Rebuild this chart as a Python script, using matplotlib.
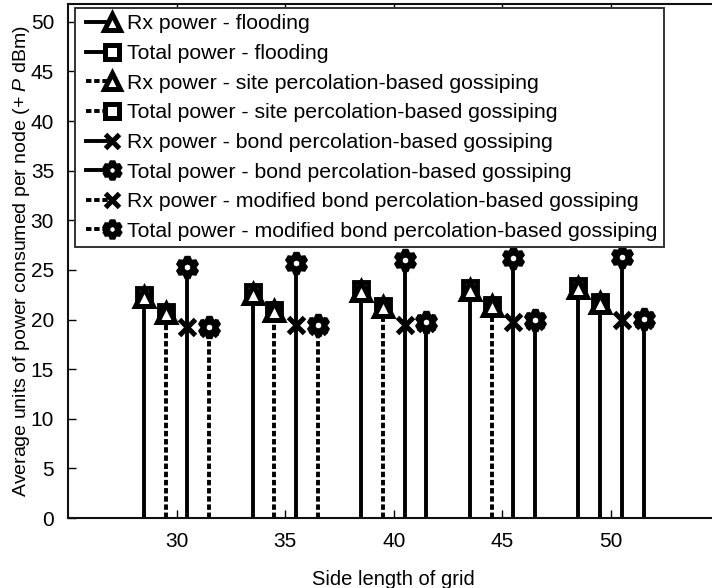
import numpy as np
import matplotlib.pyplot as plt
from matplotlib.lines import Line2D
from matplotlib.legend_handler import HandlerBase

plt.rcParams['font.family'] = ['Liberation Sans', 'DejaVu Sans']
plt.rcParams['mathtext.fontset'] = 'custom'
plt.rcParams['mathtext.it'] = 'Liberation Sans:italic'
plt.rcParams['mathtext.rm'] = 'Liberation Sans'

# side length of the grid
grid = [30, 35, 40, 45, 50]

# power per node for each scheme
rx_flood = [22.3, 22.6, 22.9, 23.0, 23.2]
tot_flood = [22.5, 22.8, 23.1, 23.2, 23.4]
rx_site = [20.7, 20.9, 21.3, 21.4, 21.7]
tot_site = [20.8, 21.0, 21.4, 21.5, 21.8]
rx_bond = [19.2, 19.4, 19.5, 19.8, 20.0]
tot_bond = [25.3, 25.7, 26.0, 26.2, 26.3]
rx_mod = [19.1, 19.3, 19.7, 19.9, 20.0]
tot_mod = [19.2, 19.4, 19.8, 20.0, 20.1]

labels = [
    "Rx power - flooding",
    "Total power - flooding",
    "Rx power - site percolation-based gossiping",
    "Total power - site percolation-based gossiping",
    "Rx power - bond percolation-based gossiping",
    "Total power - bond percolation-based gossiping",
    "Rx power - modified bond percolation-based gossiping",
    "Total power - modified bond percolation-based gossiping",
]

LW = 2.8
DASH = (0, (1.4, 0.7))
STAR = (6, 1, 0)

# stems where the two overlapping dashed lines end up looking solid
site_dashed = [True, True, True, True, False]
mod_dashed = [True, True, False, False, False]


class EndMarkerHandler(HandlerBase):
    # short line on the left, marker at its right end
    def create_artists(self, legend, orig_handle, xdescent, ydescent,
                       width, height, fontsize, trans):
        y = (height - ydescent) / 2
        xm = -xdescent + 0.74 * width
        line = Line2D([-xdescent + 0.1 * width, xm], [y, y])
        line.update_from(orig_handle)
        line.set_marker('None')
        mk = Line2D([xm], [y])
        mk.update_from(orig_handle)
        mk.set_linestyle('None')
        line.set_transform(trans)
        mk.set_transform(trans)
        return [line, mk]


fig = plt.figure(figsize=(7.12, 5.88), dpi=100)
ax = fig.add_axes([68 / 712, 70 / 588, 651.6 / 712, 514 / 588])

x = np.array(grid, dtype=float)
groups = [
    (x - 1.5, rx_flood, tot_flood, [False] * 5, '^', 's'),
    (x - 0.5, rx_site, tot_site, site_dashed, '^', 's'),
    (x + 0.5, rx_bond, tot_bond, [False] * 5, 'x', STAR),
    (x + 1.5, rx_mod, tot_mod, mod_dashed, 'x', STAR),
]

for xs, rx, tot, dashed, m_rx, m_tot in groups:
    top = np.maximum(rx, tot)
    for xi, yi, d in zip(xs, top, dashed):
        ax.plot([xi, xi], [0, yi], color='black', lw=LW,
                linestyle=DASH if d else '-', solid_capstyle='butt',
                dash_capstyle='butt', zorder=2)
    # total power markers
    if m_tot == 's':
        ax.plot(xs, tot, linestyle='none', marker='s', ms=10, mew=3.5,
                mfc='white', mec='black', zorder=3)
    else:
        ax.plot(xs, tot, linestyle='none', marker=m_tot, ms=15, mew=4.5,
                mfc='white', mec='black', zorder=4)
    # rx power markers
    if m_rx == '^':
        ax.plot(xs, rx, linestyle='none', marker='^', ms=13, mew=3.6,
                mfc='white', mec='black', zorder=4)
    else:
        ax.plot(xs, rx, linestyle='none', marker='x', ms=11, mew=3.6,
                color='black', zorder=3)

# legend proxies
styles = [('-', '^'), ('-', 's'), (DASH, '^'), (DASH, 's'),
          ('-', 'x'), ('-', STAR), (DASH, 'x'), (DASH, STAR)]
sizes = {'^': 12, 's': 10, 'x': 10}
handles = []
for ls, mk in styles:
    ms = 13 if mk == STAR else sizes[mk]
    handles.append(Line2D([], [], color='black', lw=LW, linestyle=ls,
                          marker=mk, ms=ms, mew=3.6 if mk != STAR else 4.2,
                          mfc='white', mec='black', dash_capstyle='butt'))

leg = ax.legend(handles, labels, loc='upper left', bbox_to_anchor=(0.011, 0.992),
                borderaxespad=0, fontsize=15.3, handlelength=1.95, handletextpad=0.2,
                labelspacing=0.5, borderpad=0.3, fancybox=False, framealpha=1,
                edgecolor='#333333', handler_map={Line2D: EndMarkerHandler()})
leg.get_frame().set_linewidth(1.4)

ax.set_xlim(25, 55)
ax.set_ylim(0, 51.8)
ax.set_xticks(grid)
ax.set_yticks(range(0, 51, 5))
ax.tick_params(direction='in', length=6, width=1, top=True, right=True,
               labelsize=15, pad=10, colors='black')
for s in ax.spines.values():
    s.set_linewidth(1.5)
    s.set_color('#111111')

ax.set_xlabel("Side length of grid", fontsize=14.5, labelpad=14)
ax.set_ylabel("Average units of power consumed per node (+ $P$ dBm)", fontsize=14,
              labelpad=-1)

fig.savefig("out.png", dpi=100)
